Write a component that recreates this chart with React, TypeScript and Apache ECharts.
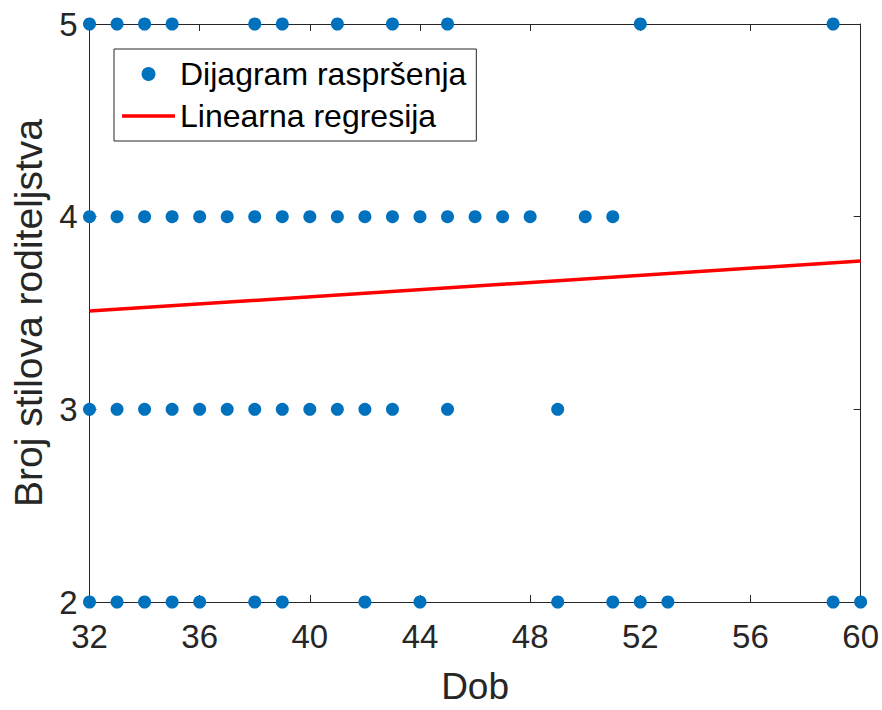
import React, { useEffect, useRef } from "react";
import * as echarts from "echarts";

// Ages of respondents grouped by number of parenting styles
const agesLevel5 = [32, 33, 34, 35, 38, 39, 41, 43, 45, 52, 59];
const agesLevel4 = [32, 33, 34, 35, 36, 37, 38, 39, 40, 41, 42, 43, 44, 45, 46, 47, 48, 50, 51];
const agesLevel3 = [32, 33, 34, 35, 36, 37, 38, 39, 40, 41, 42, 43, 45, 49];
const agesLevel2 = [32, 33, 34, 35, 36, 38, 39, 42, 44, 49, 51, 52, 53, 59, 60];

// Regression line endpoints
const regressionX = [32, 60];
const regressionY = [3.51, 3.77];

const xTicks = { min: 32, max: 60, interval: 4 };
const yTicks = { min: 2, max: 5, interval: 1 };

const scatterName = "Dijagram raspršenja";
const lineName = "Linearna regresija";
const xName = "Dob";
const yName = "Broj stilova roditeljstva";

const FONT = "'Liberation Sans', Arial, Helvetica, sans-serif";
const AXIS_COLOR = "#262626";

export default function App() {
  const ref = useRef<HTMLDivElement>(null);

  useEffect(() => {
    if (!ref.current) return;
    const chart = echarts.init(ref.current, undefined, { renderer: "svg" });

    const scatterData: number[][] = [];
    agesLevel5.forEach((a) => scatterData.push([a, 5]));
    agesLevel4.forEach((a) => scatterData.push([a, 4]));
    agesLevel3.forEach((a) => scatterData.push([a, 3]));
    agesLevel2.forEach((a) => scatterData.push([a, 2]));
    const lineData = regressionX.map((x, i) => [x, regressionY[i]]);

    const axisLine = { show: true, onZero: false, lineStyle: { color: AXIS_COLOR, width: 1 } };
    const axisTick = { show: true, inside: true, length: 7, lineStyle: { color: AXIS_COLOR, width: 1 } };

    chart.setOption({
      animation: false,
      backgroundColor: "#ffffff",
      textStyle: { fontFamily: FONT },
      grid: { left: 89.5, right: 20, top: 24, bottom: 104, containLabel: false },
      legend: {
        orient: "vertical",
        left: 114,
        top: 49,
        padding: [9, 10, 9, 8],
        itemGap: 10,
        itemWidth: 53,
        itemHeight: 14,
        borderColor: AXIS_COLOR,
        borderWidth: 1,
        borderRadius: 0,
        backgroundColor: "#ffffff",
        selectedMode: false,
        textStyle: { fontSize: 32, color: "#000000", fontFamily: FONT, lineHeight: 30 },
        data: [
          { name: scatterName, icon: "circle", itemStyle: { color: "#0072BD", opacity: 1 } },
          {
            name: lineName,
            icon: "path://M0,0L0.01,0ZM0,5.25H53V8.75H0ZM53,14L52.99,14Z",
            itemStyle: { color: "#FF0000", borderWidth: 0, opacity: 1 },
          },
        ],
      },
      xAxis: [
        {
          type: "value",
          position: "bottom",
          min: xTicks.min,
          max: xTicks.max,
          interval: xTicks.interval,
          name: xName,
          nameLocation: "middle",
          nameGap: 66,
          nameTextStyle: { fontSize: 37, color: AXIS_COLOR, fontFamily: FONT },
          axisLine,
          axisTick,
          axisLabel: { fontSize: 33, color: AXIS_COLOR, margin: 18, fontFamily: FONT },
          splitLine: { show: false },
        },
        {
          type: "value",
          position: "top",
          min: xTicks.min,
          max: xTicks.max,
          interval: xTicks.interval,
          axisLine,
          axisTick,
          axisLabel: { show: false },
          splitLine: { show: false },
        },
      ],
      yAxis: [
        {
          type: "value",
          position: "left",
          min: yTicks.min,
          max: yTicks.max,
          interval: yTicks.interval,
          name: yName,
          nameLocation: "middle",
          nameGap: 40,
          nameTextStyle: { fontSize: 39, color: AXIS_COLOR, fontFamily: FONT },
          axisLine,
          axisTick,
          axisLabel: { fontSize: 33, color: AXIS_COLOR, margin: 12, fontFamily: FONT },
          splitLine: { show: false },
        },
        {
          type: "value",
          position: "right",
          min: yTicks.min,
          max: yTicks.max,
          interval: yTicks.interval,
          axisLine,
          axisTick,
          axisLabel: { show: false },
          splitLine: { show: false },
        },
      ],
      series: [
        {
          name: scatterName,
          type: "scatter",
          xAxisIndex: 0,
          yAxisIndex: 0,
          symbol: "circle",
          symbolSize: 13,
          clip: false,
          itemStyle: { color: "#0072BD", opacity: 1 },
          data: scatterData,
          z: 3,
        },
        {
          name: lineName,
          type: "line",
          xAxisIndex: 0,
          yAxisIndex: 0,
          symbol: "none",
          clip: false,
          lineStyle: { color: "#FF0000", width: 3.5 },
          itemStyle: { color: "#FF0000" },
          data: lineData,
          z: 2,
        },
      ],
    });

    return () => chart.dispose();
  }, []);

  return (
    <div
      ref={ref}
      style={{ position: "absolute", left: 0, top: 0, width: 882, height: 710, background: "#fff" }}
    />
  );
}
